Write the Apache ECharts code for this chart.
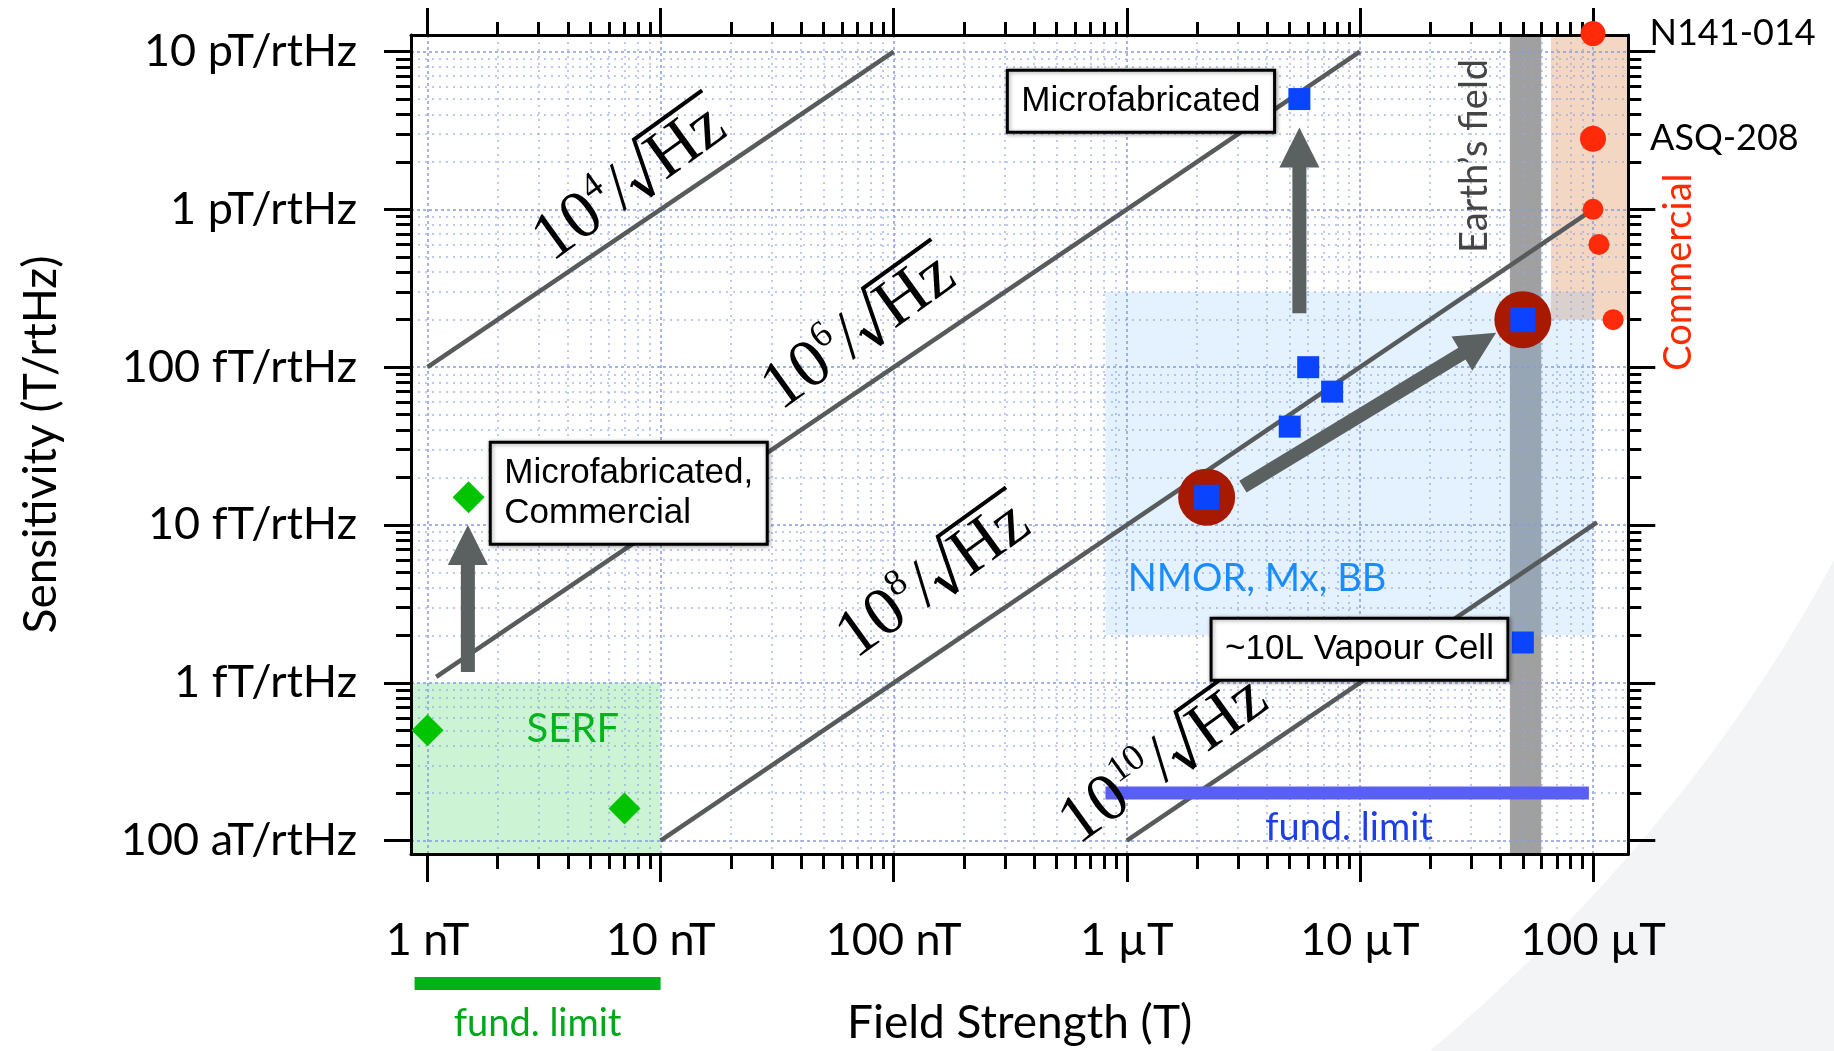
<!DOCTYPE html>
<html>
<head>
<meta charset="utf-8">
<title>Magnetometer sensitivity vs field strength</title>
<script src="https://cdn.jsdelivr.net/npm/echarts@6/dist/echarts.min.js"></script>
<style>
  html, body { margin: 0; padding: 0; background: #ffffff; }
  #chart { width: 1834px; height: 1051px; }
</style>
</head>
<body>
<div id="chart"></div>
<script>
const LOG = Math.log10;

// ---- axis ranges (tesla, tesla/rtHz) ----
const fieldRange = [Math.pow(10, -9.0708), Math.pow(10, -3.8486)];
const sensRange = [Math.pow(10, -16.085), Math.pow(10, -10.895)];

// ---- tick labels ----
const fieldTicks = [1e-9, 1e-8, 1e-7, 1e-6, 1e-5, 1e-4];
const fieldTickLabels = ['1 nT', '10 nT', '100 nT', '1 µT', '10 µT', '100 µT'];
const sensTicks = [1e-16, 1e-15, 1e-14, 1e-13, 1e-12, 1e-11];
const sensTickLabels = ['100 aT/rtHz', '1 fT/rtHz', '10 fT/rtHz', '100 fT/rtHz', '1 pT/rtHz', '10 pT/rtHz'];

// ---- measurements: [field (T), sensitivity (T/rtHz)] ----
const serfPoints = [[1e-9, 5e-16], [1.5e-9, 1.5e-14], [7e-9, 1.6e-16]];
const scalarPoints = [[5.5e-6, 5e-12], [6e-6, 1e-13], [7.6e-6, 7e-14], [5e-6, 4.2e-14], [5e-5, 1.8e-15]];
const highlightPoints = [[2.2e-6, 1.5e-14], [5e-5, 2e-13]];
const commercialPoints = [[1e-4, 1.3e-11], [1e-4, 2.8e-12], [1e-4, 1e-12], [1.06e-4, 6e-13], [1.22e-4, 2e-13]];
const commercialNames = ['N141-014', 'ASQ-208', '', '', ''];

// ---- lines of constant dynamic range B / δB ----
const ratioExponents = [4, 6, 8, 10];
const ratioLines = [
  [[1e-9, 1e-13], [1e-7, 1e-11]],
  [[1.09e-9, 1.09e-15], [1e-5, 1e-11]],
  [[1e-8, 1e-16], [1e-4, 1e-12]],
  [[1e-6, 1e-16], [1.04e-4, 1.04e-14]]
];

// ---- operating regions: [[field lo, sens lo], [field hi, sens hi]] ----
const earthFieldBand = [[4.4e-5, sensRange[0]], [6e-5, sensRange[1]]];
const commercialRegion = [[6.6e-5, 2e-13], [fieldRange[1], sensRange[1]]];
const scalarRegion = [[8.1e-7, 2e-15], [1e-4, 3e-13]];
const serfRegion = [[fieldRange[0], sensRange[0]], [1e-8, 1e-15]];

// ---- fundamental limits ----
const scalarLimit = [[8.1e-7, 2e-16], [9.6e-5, 2e-16]];
const serfLimitField = [8.8e-10, 1e-8];

// ---- progress arrows: [from, to] ----
const progressArrows = [
  [[1.49e-9, 1.17e-15], [1.49e-9, 1e-14]],
  [[5.5e-6, 2.2e-13], [5.5e-6, 3.3e-12]],
  [[3.15e-6, 1.75e-14], [3.84e-5, 1.65e-13]]
];

// ---- annotation placement ----
const ratioLabelAnchors = [[7.46e-9, 1.49e-12], [7.17e-8, 1.7e-13], [1.5e-7, 4.55e-15], [1.46e-6, 3.26e-16]];
const boxLabels = [
  { lines: ['Microfabricated'], at: [1.15e-6, 4.85e-12] },
  { lines: ['Microfabricated,', 'Commercial'], at: [7.3e-9, 1.59e-14] },
  { lines: ['~10L Vapour Cell'], at: [9.96e-6, 1.63e-15] }
];
const textAnnotations = [
  { text: 'SERF', at: [4.2e-9, 5.1e-16], color: '#00b41e', size: 40 },
  { text: 'NMOR, Mx, BB', at: [3.62e-6, 4.57e-15], color: '#1a8cff', size: 38 },
  { text: 'fund. limit', at: [8.98e-6, 1.2e-16], color: '#1f3fe6', size: 38 },
  { text: 'Earth\u2019s field', at: [3.1e-5, 2.18e-12], color: '#444444', size: 38, vertical: true },
  { text: 'Commercial', at: [2.33e-4, 4e-13], color: '#ff2a00', size: 38, vertical: true }
];

// ---------------------------------------------------------------
const toLog = pts => pts.map(p => [LOG(p[0]), LOG(p[1])]);
const measureCtx = document.createElement('canvas').getContext('2d');
function textWidth(str, font) { measureCtx.font = font; return measureCtx.measureText(str).width; }
function minorTicks(majors) {
  const out = [];
  for (let i = 0; i < majors.length - 1; i++) {
    for (let k = 2; k <= 9; k++) out.push(LOG(majors[i] * k));
  }
  return out;
}

const X_MIN = LOG(fieldRange[0]), X_MAX = LOG(fieldRange[1]);
const Y_MIN = LOG(sensRange[0]), Y_MAX = LOG(sensRange[1]);
const xMajor = fieldTicks.map(LOG), xMinor = minorTicks(fieldTicks);
const yMajor = sensTicks.map(LOG), yMinor = minorTicks(sensTicks);

const SANS = 'Lato, "Open Sans", sans-serif';
const BOX_FONT = '35px "Liberation Sans", Arial, sans-serif';
const SERIF = '"Liberation Serif", "Times New Roman", serif';

const tickStyle = { color: '#000', width: 3 };
const majorGrid = { show: true, lineStyle: { color: 'rgba(135,155,220,0.75)', width: 2, type: [3, 3] } };
const minorGrid = { show: true, lineStyle: { color: 'rgba(145,165,225,0.6)', width: 2, type: [2, 5] } };

function makeAxis(min, max, extra) {
  return Object.assign({
    type: 'value', min: min, max: max,
    axisLine: { show: false, onZero: false },
    axisTick: { show: false },
    axisLabel: { show: false },
    splitLine: { show: false }
  }, extra);
}

const xAxes = [
  makeAxis(X_MIN, X_MAX, {
    position: 'bottom',
    axisLine: { show: true, onZero: false, lineStyle: { color: '#000', width: 3 } },
    axisTick: { show: true, inside: false, length: 28, customValues: xMajor, lineStyle: tickStyle },
    axisLabel: {
      show: true, customValues: xMajor, margin: 64,
      fontFamily: SANS, fontSize: 45, color: '#000',
      formatter: v => fieldTickLabels[Math.round(v) + 9]
    },
    splitLine: majorGrid,
    name: 'Field Strength (T)', nameLocation: 'middle', nameGap: 146,
    nameTextStyle: { fontFamily: SANS, fontSize: 46, color: '#000' }
  }),
  makeAxis(X_MIN, X_MAX, {
    position: 'bottom',
    axisTick: { show: true, inside: false, length: 15, customValues: xMinor, lineStyle: tickStyle },
    splitLine: minorGrid
  }),
  makeAxis(X_MIN, X_MAX, {
    position: 'top',
    axisLine: { show: true, onZero: false, lineStyle: { color: '#000', width: 3 } },
    axisTick: { show: true, inside: false, length: 27, customValues: xMajor, lineStyle: tickStyle }
  }),
  makeAxis(X_MIN, X_MAX, {
    position: 'top',
    axisTick: { show: true, inside: false, length: 13, customValues: xMinor, lineStyle: tickStyle }
  })
];

const yAxes = [
  makeAxis(Y_MIN, Y_MAX, {
    position: 'left',
    axisLine: { show: true, onZero: false, lineStyle: { color: '#000', width: 3 } },
    axisTick: { show: true, inside: false, length: 27, customValues: yMajor, lineStyle: tickStyle },
    axisLabel: {
      show: true, customValues: yMajor, margin: 54,
      fontFamily: SANS, fontSize: 45, color: '#000',
      formatter: v => sensTickLabels[Math.round(v) + 16]
    },
    splitLine: majorGrid,
    name: 'Sensitivity (T/rtHz)', nameLocation: 'middle', nameGap: 347, nameRotate: 90,
    nameTextStyle: { fontFamily: SANS, fontSize: 46, color: '#000' }
  }),
  makeAxis(Y_MIN, Y_MAX, {
    position: 'left',
    axisTick: { show: true, inside: false, length: 15, customValues: yMinor, lineStyle: tickStyle },
    splitLine: minorGrid
  }),
  makeAxis(Y_MIN, Y_MAX, {
    position: 'right',
    axisLine: { show: true, onZero: false, lineStyle: { color: '#000', width: 3 } },
    axisTick: { show: true, inside: false, length: 27, customValues: yMajor, lineStyle: tickStyle }
  }),
  makeAxis(Y_MIN, Y_MAX, {
    position: 'right',
    axisTick: { show: true, inside: false, length: 13, customValues: yMinor, lineStyle: tickStyle }
  })
];

// ---- renderers ----
const regionList = [earthFieldBand, commercialRegion, scalarRegion, serfRegion];
const regionColors = ['#a0a0a0', 'rgba(222,140,80,0.35)', 'rgba(120,185,255,0.2)', 'rgba(0,200,40,0.2)'];

function renderRegion(params, api) {
  const cs = params.coordSys;
  const a = api.coord([api.value(0), api.value(1)]);
  const b = api.coord([api.value(2), api.value(3)]);
  const x0 = Math.max(Math.min(a[0], b[0]), cs.x);
  const x1 = Math.min(Math.max(a[0], b[0]), cs.x + cs.width);
  const y0 = Math.max(Math.min(a[1], b[1]), cs.y);
  const y1 = Math.min(Math.max(a[1], b[1]), cs.y + cs.height);
  return { type: 'rect', shape: { x: x0, y: y0, width: x1 - x0, height: y1 - y0 },
           style: { fill: regionColors[params.dataIndex] } };
}

function renderArrow(params, api) {
  const p0 = api.coord([api.value(0), api.value(1)]);
  const p1 = api.coord([api.value(2), api.value(3)]);
  const dx = p1[0] - p0[0], dy = p1[1] - p0[1], len = Math.hypot(dx, dy);
  const ux = dx / len, uy = dy / len, nx = -uy, ny = ux;
  const sw = 7, hw = 20, hl = 40;
  const bx = p1[0] - ux * hl, by = p1[1] - uy * hl;
  const pts = [
    [p0[0] + nx * sw, p0[1] + ny * sw], [bx + nx * sw, by + ny * sw], [bx + nx * hw, by + ny * hw],
    [p1[0], p1[1]],
    [bx - nx * hw, by - ny * hw], [bx - nx * sw, by - ny * sw], [p0[0] - nx * sw, p0[1] - ny * sw]
  ];
  return { type: 'polygon', shape: { points: pts }, style: { fill: '#5b6060' } };
}

// "10^n/√Hz" drawn along its line: digits, raised exponent, slash, radical with overbar
function renderRatioLabel(params, api) {
  const i = params.dataIndex;
  const S = 68;
  const big = S + 'px ' + SERIF;
  const supSize = Math.round(S * 0.55);
  const sup = supSize + 'px ' + SERIF;
  const exp = String(ratioExponents[i]);
  const seg = ratioLines[i];
  const q0 = api.coord([LOG(seg[0][0]), LOG(seg[0][1])]);
  const q1 = api.coord([LOG(seg[1][0]), LOG(seg[1][1])]);
  const angle = Math.atan2(q0[1] - q1[1], q1[0] - q0[0]) + 0.03;
  const c = api.coord([api.value(0), api.value(1)]);

  const w10 = textWidth('10', big), wExp = textWidth(exp, sup);
  const wSlash = textWidth('/', big), wHz = textWidth('Hz', big);
  const radW = 0.46 * S;
  const total = w10 + wExp + 0.03 * S + wSlash + 0.02 * S + radW + wHz + 0.05 * S;
  const base = 0.32 * S;
  const mid = base - 0.305 * S;
  const supMid = base - 0.42 * S - 0.305 * supSize;
  const txt = (t, f, xx, yy) => ({ type: 'text', style: { text: t, font: f, fill: '#000', x: xx, y: yy, align: 'left', verticalAlign: 'middle' } });
  const ch = [];
  let x = -total / 2;
  ch.push(txt('10', big, x, mid)); x += w10;
  ch.push(txt(exp, sup, x, supMid)); x += wExp + 0.03 * S;
  ch.push(txt('/', big, x, mid)); x += wSlash + 0.02 * S;
  const rx = x;
  x += radW;
  ch.push(txt('Hz', big, x, mid)); x += wHz + 0.05 * S;
  const top = base - 0.8 * S;
  ch.push({ type: 'line', shape: { x1: rx, y1: base - 0.26 * S, x2: rx + 0.07 * S, y2: base - 0.31 * S }, style: { stroke: '#000', lineWidth: 2.5 } });
  ch.push({ type: 'line', shape: { x1: rx + 0.07 * S, y1: base - 0.31 * S, x2: rx + 0.19 * S, y2: base + 0.03 * S }, style: { stroke: '#000', lineWidth: 5.5 } });
  ch.push({ type: 'polyline', shape: { points: [[rx + 0.19 * S, base + 0.03 * S], [rx + 0.44 * S, top], [x, top]] },
            style: { stroke: '#000', lineWidth: 4, fill: 'none', lineJoin: 'miter' } });
  return { type: 'group', x: c[0], y: c[1], rotation: angle, children: ch };
}

function renderBox(params, api) {
  const b = boxLabels[params.dataIndex];
  const c = api.coord([api.value(0), api.value(1)]);
  const padX = 14, padY = 11, lh = 40;
  const w = Math.max.apply(null, b.lines.map(t => textWidth(t, BOX_FONT))) + 2 * padX;
  const h = b.lines.length * lh + 2 * padY;
  const x0 = c[0] - w / 2, y0 = c[1] - h / 2;
  const ch = [{
    type: 'rect', shape: { x: x0, y: y0, width: w, height: h },
    style: { fill: '#fff', stroke: '#000', lineWidth: 3, shadowBlur: 4, shadowColor: 'rgba(0,0,0,0.35)', shadowOffsetX: 1, shadowOffsetY: 1 }
  }];
  b.lines.forEach((t, k) => {
    ch.push({ type: 'text', style: { text: t, font: BOX_FONT, fill: '#000', x: x0 + padX, y: y0 + padY + lh * (k + 0.5), align: 'left', verticalAlign: 'middle' } });
  });
  return { type: 'group', children: ch };
}

function renderAnnotation(params, api) {
  const a = textAnnotations[params.dataIndex];
  const c = api.coord([api.value(0), api.value(1)]);
  return { type: 'text', x: c[0], y: c[1], rotation: a.vertical ? Math.PI / 2 : 0,
           style: { text: a.text, font: a.size + 'px ' + SANS, fill: a.color, align: 'center', verticalAlign: 'middle' } };
}

function renderSerfLimit(params, api) {
  const cs = params.coordSys;
  const a = api.coord([api.value(0), api.value(2)]);
  const b = api.coord([api.value(1), api.value(2)]);
  const y = cs.y + cs.height + 129.5;
  return { type: 'group', children: [
    { type: 'line', shape: { x1: a[0], y1: y, x2: b[0], y2: y }, style: { stroke: '#00b01c', lineWidth: 13, lineCap: 'butt' } },
    { type: 'text', style: { text: 'fund. limit', x: (a[0] + b[0]) / 2, y: y + 40, font: '38px ' + SANS, fill: '#00a81a', align: 'center', verticalAlign: 'middle' } }
  ] };
}

// soft page-corner backdrop (quadratic edge sampled into a polygon)
function backdropPoints() {
  const p0 = [1430, 1051], pc = [1690, 830], p1 = [1834, 560];
  const pts = [];
  for (let k = 0; k <= 40; k++) {
    const t = k / 40, u = 1 - t;
    pts.push([u * u * p0[0] + 2 * u * t * pc[0] + t * t * p1[0], u * u * p0[1] + 2 * u * t * pc[1] + t * t * p1[1]]);
  }
  pts.push([1834, 1051]);
  return pts;
}

const quad = ['x0', 'y0', 'x1', 'y1'];
const series = [
  {
    type: 'custom', name: 'regions', z: -1, silent: true,
    dimensions: quad, encode: { x: [0, 2], y: [1, 3] },
    data: regionList.map(r => [LOG(r[0][0]), LOG(r[0][1]), LOG(r[1][0]), LOG(r[1][1])]),
    renderItem: renderRegion
  },
  ...ratioLines.map(seg => ({
    type: 'line', silent: true, z: 3, symbol: 'none', data: toLog(seg),
    lineStyle: { color: '#585b5b', width: 4.5 }
  })),
  {
    type: 'line', name: 'scalar fundamental limit', silent: true, z: 3, symbol: 'none',
    data: toLog(scalarLimit), lineStyle: { color: '#5a5ff4', width: 13, cap: 'butt' }
  },
  {
    type: 'custom', name: 'SERF fundamental limit', silent: true, z: 3, clip: false,
    dimensions: ['x0', 'x1', 'y'], encode: { x: [0, 1], y: 2 },
    data: [[LOG(serfLimitField[0]), LOG(serfLimitField[1]), Y_MIN]],
    renderItem: renderSerfLimit
  },
  {
    type: 'scatter', name: 'highlight', silent: true, z: 4, clip: false,
    symbol: 'circle', symbolSize: 57, data: toLog(highlightPoints),
    itemStyle: { color: '#a81a00', opacity: 1 }
  },
  {
    type: 'custom', name: 'arrows', silent: true, z: 5,
    dimensions: quad, encode: { x: [0, 2], y: [1, 3] },
    data: progressArrows.map(a => [LOG(a[0][0]), LOG(a[0][1]), LOG(a[1][0]), LOG(a[1][1])]),
    renderItem: renderArrow
  },
  {
    type: 'scatter', name: 'SERF', silent: true, z: 6, clip: false,
    symbol: 'diamond', symbolSize: 32, data: toLog(serfPoints),
    itemStyle: { color: '#00c400', opacity: 1 }
  },
  {
    type: 'scatter', name: 'NMOR, Mx, BB', silent: true, z: 6, clip: false,
    symbol: 'rect', symbolSize: 22, data: toLog(scalarPoints),
    itemStyle: { color: '#0a44ff', opacity: 1 }
  },
  {
    type: 'scatter', name: 'highlight squares', silent: true, z: 6, clip: false,
    symbol: 'rect', symbolSize: 25, data: toLog(highlightPoints),
    itemStyle: { color: '#0a44ff', opacity: 1 }
  },
  {
    type: 'scatter', name: 'Commercial', silent: true, z: 6, clip: false,
    symbol: 'circle', data: toLog(commercialPoints),
    symbolSize: (v, p) => [25, 26, 21, 21, 21][p.dataIndex],
    itemStyle: { color: '#ff2a0a', opacity: 1 },
    label: {
      show: true, position: 'right', distance: 44,
      formatter: p => commercialNames[p.dataIndex],
      fontFamily: SANS, fontSize: 36, color: '#000'
    }
  },
  {
    type: 'custom', name: 'ratio labels', silent: true, z: 8, clip: false,
    data: toLog(ratioLabelAnchors), renderItem: renderRatioLabel
  },
  {
    type: 'custom', name: 'boxes', silent: true, z: 8, clip: false,
    data: boxLabels.map(b => [LOG(b.at[0]), LOG(b.at[1])]), renderItem: renderBox
  },
  {
    type: 'custom', name: 'annotations', silent: true, z: 8, clip: false,
    data: textAnnotations.map(a => [LOG(a.at[0]), LOG(a.at[1])]), renderItem: renderAnnotation
  }
];

const chart = echarts.init(document.getElementById('chart'), null, { renderer: 'canvas' });
chart.setOption({
  animation: false,
  backgroundColor: '#ffffff',
  graphic: [{
    type: 'polygon', z: -20, silent: true,
    shape: { points: backdropPoints() },
    style: { fill: '#f3f4f6' }
  }],
  grid: { left: 411, top: 35, right: 205.7, bottom: 191, containLabel: false },
  xAxis: xAxes,
  yAxis: yAxes,
  series: series.map(s => Object.assign({ xAxisIndex: 0, yAxisIndex: 0 }, s))
});
</script>
</body>
</html>
